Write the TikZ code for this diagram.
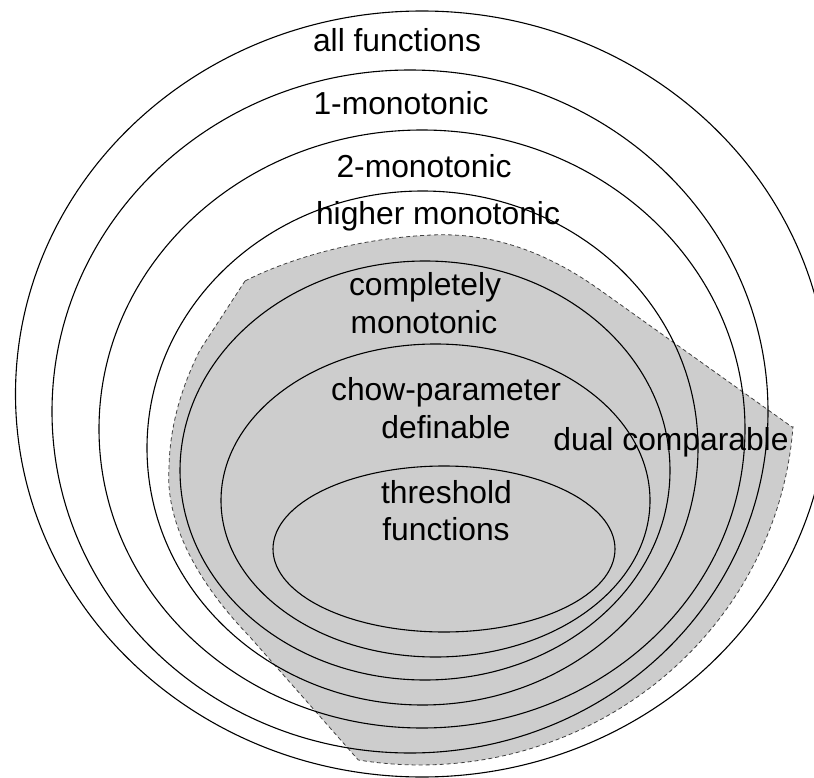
\documentclass[tikz,border=0pt]{standalone}
\usepackage{fontspec}
\setmainfont{Liberation Sans}
\definecolor{regiongray}{RGB}{205,205,205}
\begin{document}
\begin{tikzpicture}[x=1pt,y=-1pt,
  setline/.style={draw=black, line width=1.1pt},
  lbl/.style={anchor=base, inner sep=0pt, font=\fontsize{31.8}{38}\selectfont},
  region/.style={fill=regiongray, draw=black!75, line width=0.8pt, dash pattern=on 4pt off 3pt}]
\useasboundingbox (0,0) rectangle (814,778);
\clip (0,0) rectangle (814,778);
% dual comparable region
\path[region] (245,281) .. controls (290,258) and (360,238) .. (432,235)
  .. controls (500,232) and (555,258) .. (600,290)
  -- (792,427)
  -- plot[domain=4.2:99.5, samples=60, variable=\t] ({420+374*cos(\t)}, {400+365*sin(\t)})
  -- (250,637)
  .. controls (195,580) and (165,520) .. (169,467)
  .. controls (170,420) and (185,380) .. (200,350)
  -- cycle;
% nested sets
\draw[setline] (422,394) ellipse [x radius=406.5pt, y radius=383pt];
\draw[setline] (410,411.5) ellipse [x radius=358pt, y radius=341.5pt];
\draw[setline] (422,429) ellipse [x radius=323pt, y radius=299pt];
\draw[setline] (422.5,448) ellipse [x radius=275.5pt, y radius=257pt];
\draw[setline] (425,470.5) ellipse [x radius=245pt, y radius=209.5pt];
\draw[setline] (435.5,500.5) ellipse [x radius=214.5pt, y radius=156.5pt];
\draw[setline] (444,549) ellipse [x radius=171pt, y radius=83pt];
% labels
\node[lbl] (all) at (397,52) {all functions};
\node[lbl] (one) at (401,115) {1-monotonic};
\node[lbl] (two) at (424,178) {2-monotonic};
\node[lbl] (higher) at (438,225) {higher monotonic};
\node[lbl] (compl1) at (425,295) {completely};
\node[lbl] (compl2) at (424,333) {monotonic};
\node[lbl] (chow1) at (446,400) {chow-parameter};
\node[lbl] (chow2) at (446,438) {definable};
\node[lbl] (dual) at (671,450) {dual comparable};
\node[lbl] (thr1) at (446.5,503) {threshold};
\node[lbl] (thr2) at (446,540) {functions};
\end{tikzpicture}
\end{document}
